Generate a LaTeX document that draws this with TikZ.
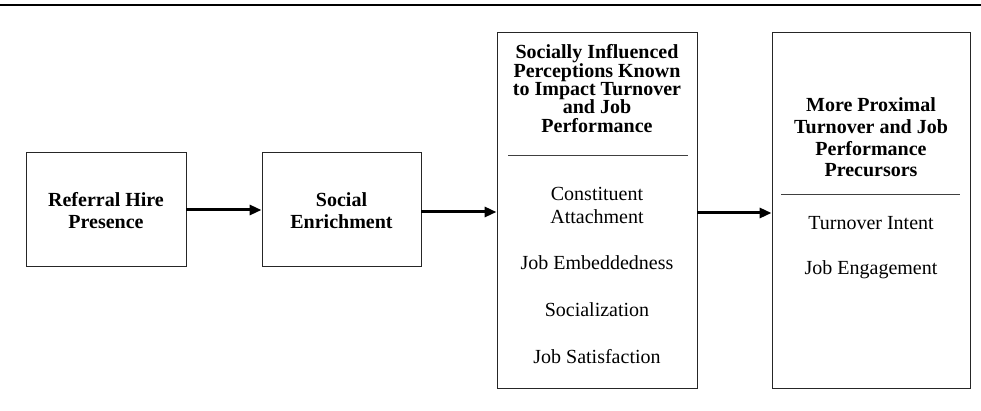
\documentclass[tikz,border=0pt]{standalone}
\usepackage{fontspec}
\setmainfont{Liberation Serif}
\usetikzlibrary{arrows.meta}
\begin{document}
\begin{tikzpicture}[x=1pt,y=-1pt,
  box/.style={draw=black!85, line width=0.9pt, inner sep=0pt},
  ttl/.style={font=\fontsize{20}{22}\selectfont\bfseries, align=center, inner sep=0pt},
  itm/.style={font=\fontsize{20}{23}\selectfont, align=center, inner sep=0pt},
  arr/.style={line width=3pt, -{Triangle[length=12pt,width=10pt]}},
  sep/.style={draw=black!75, line width=1pt}]
\useasboundingbox (0,0) rectangle (981,411);
\draw[line width=2pt] (0,5.5) -- (981,5.5);
% boxes
\node[box, minimum width=160pt, minimum height=114pt] (b1) at (106,209) {};
\node[box, minimum width=159pt, minimum height=114pt] (b2) at (341.5,209) {};
\node[box, minimum width=200pt, minimum height=356pt] (b3) at (597,210) {};
\node[box, minimum width=198pt, minimum height=356pt] (b4) at (871,210) {};
% texts
\node[ttl] (t1) at (106,211) {Referral Hire\\Presence};
\node[ttl] (t2) at (341.5,211) {Social\\Enrichment};
\node[ttl, font=\fontsize{20}{18.3}\selectfont\bfseries] (t3) at (597,88.5) {Socially Influenced\\Perceptions Known\\to Impact Turnover\\and Job\\Performance};
\node[ttl, font=\fontsize{20}{21.7}\selectfont\bfseries] (t4) at (871,137.5) {More Proximal\\Turnover and Job\\Performance\\Precursors};
% separators
\coordinate (s3a) at (508,156); \coordinate (s3b) at (688,156);
\coordinate (s4a) at (781,195); \coordinate (s4b) at (960,195);
\draw[sep] (s3a) -- (s3b);
\draw[sep] (s4a) -- (s4b);
% items
\node[itm] (i1) at (597,205.5) {Constituent\\Attachment};
\node[itm] (i2) at (597,263) {Job Embeddedness};
\node[itm] (i3) at (597,310) {Socialization};
\node[itm] (i4) at (597,357) {Job Satisfaction};
\node[itm] (j1) at (871,223) {Turnover Intent};
\node[itm] (j2) at (871,270) {Job Engagement};
% arrows
\draw[arr] (b1.east |- 0,210) -- (b2.west |- 0,210);
\draw[arr] (b2.east |- 0,212) -- (b3.west |- 0,212);
\draw[arr] (b3.east |- 0,213) -- (b4.west |- 0,213);
\end{tikzpicture}
\end{document}
